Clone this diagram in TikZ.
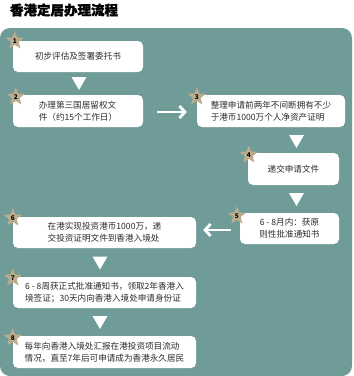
\documentclass[tikz,border=0pt]{standalone}
\usepackage{fontspec}
\setmainfont{Noto Sans CJK SC}
\newfontfamily\titlefont[FakeBold=1.2]{Noto Sans CJK SC}
\usetikzlibrary{shapes.geometric,arrows.meta,calc}
\definecolor{panel}{HTML}{6F9C99}
\definecolor{startan}{HTML}{BDAC8C}
\definecolor{txt}{HTML}{2B2B2B}
\begin{document}
\begin{tikzpicture}[x=1pt,y=-1pt,
 box/.style={fill=white, rounded corners=5pt, inner sep=0pt, align=left, font=\fontsize{8.6}{12}\selectfont, text=txt},
 badge/.style={star, star points=5, star point ratio=2.3, fill=startan, minimum size=19pt, inner sep=0pt, font=\bfseries\fontsize{6.5}{7}\selectfont, text=black},
 arr/.style={draw=white, line width=2.8pt, -{Straight Barb[length=5.5pt,width=12pt]}},
 downtri/.pic={\fill[white] (-7.5,-6.5) -- (7.5,-6.5) -- (0,6.5) -- cycle;}
]
\useasboundingbox (0,0) rectangle (354,376);
\fill[white] (0,0) rectangle (354,376);
\node[anchor=west, font=\titlefont\bfseries\fontsize{13.5}{14}\selectfont, text=black] (title) at (6.5,10) {香港定居办理流程};
\fill[panel, rounded corners=10pt] (0,28) rectangle (352,376);

\node[box, minimum width=130pt, minimum height=31pt] (b1) at (78,56.5) {初步评估及签署委托书};
\node[box, minimum width=130pt, minimum height=32pt] (b2) at (78,111) {办理第三国居留权文\\件（约15个工作日）};
\node[box, minimum width=148pt, minimum height=32pt] (b3) at (271,111) {整理申请前两年不间断拥有不少\\于港币1000万个人净资产证明};
\node[box, minimum width=91pt, minimum height=32pt] (b4) at (293.5,169) {递交申请文件};
\node[box, minimum width=99pt, minimum height=31pt, align=center] (b5) at (289.5,228.5) {6 - 8月内：获原\\则性批准通知书};
\node[box, minimum width=183pt, minimum height=31pt] (b6) at (104.5,232.5) {在港实现投资港币1000万，递\\交投资证明文件到香港入境处};
\node[box, minimum width=183pt, minimum height=31pt] (b7) at (104.5,292.5) {6 - 8周获正式批准通知书，领取2年香港入\\境签证；30天内向香港入境处申请身份证};
\node[box, minimum width=183pt, minimum height=32pt] (b8) at (104.5,352) {每年向香港入境处汇报在港投资项目流动\\情况，直至7年后可申请成为香港永久居民};

\node[badge] (s1) at ($(b1.north west)+(2,0)$) {1};
\node[badge] (s2) at ($(b2.north west)+(3,2)$) {2};
\node[badge] (s3) at ($(b3.north west)+(0,2)$) {3};
\node[badge] (s4) at ($(b4.north west)+(1,2)$) {4};
\node[badge] (s5) at ($(b5.north west)+(-3,3)$) {5};
\node[badge] (s6) at ($(b6.north west)+(0,1)$) {6};
\node[badge] (s7) at ($(b7.north west)+(0,1)$) {7};
\node[badge] (s8) at ($(b8.north west)+(0,2)$) {8};

\pic at (79,83.5) {downtri};
\pic at (296.5,141.5) {downtri};
\pic at (296.5,199.5) {downtri};
\pic at (100,263) {downtri};
\pic at (100,322.5) {downtri};

\path ([xshift=14pt,yshift=-1pt]b2.east) coordinate (a2);
\path ([xshift=-9pt,yshift=-1.5pt]b5.west) coordinate (a5);
\draw[arr] (a2) -- ([xshift=-10pt]b3.west |- a2);
\draw[arr] (a5) -- ([xshift=7pt]b6.east |- a5);
\end{tikzpicture}
\end{document}
